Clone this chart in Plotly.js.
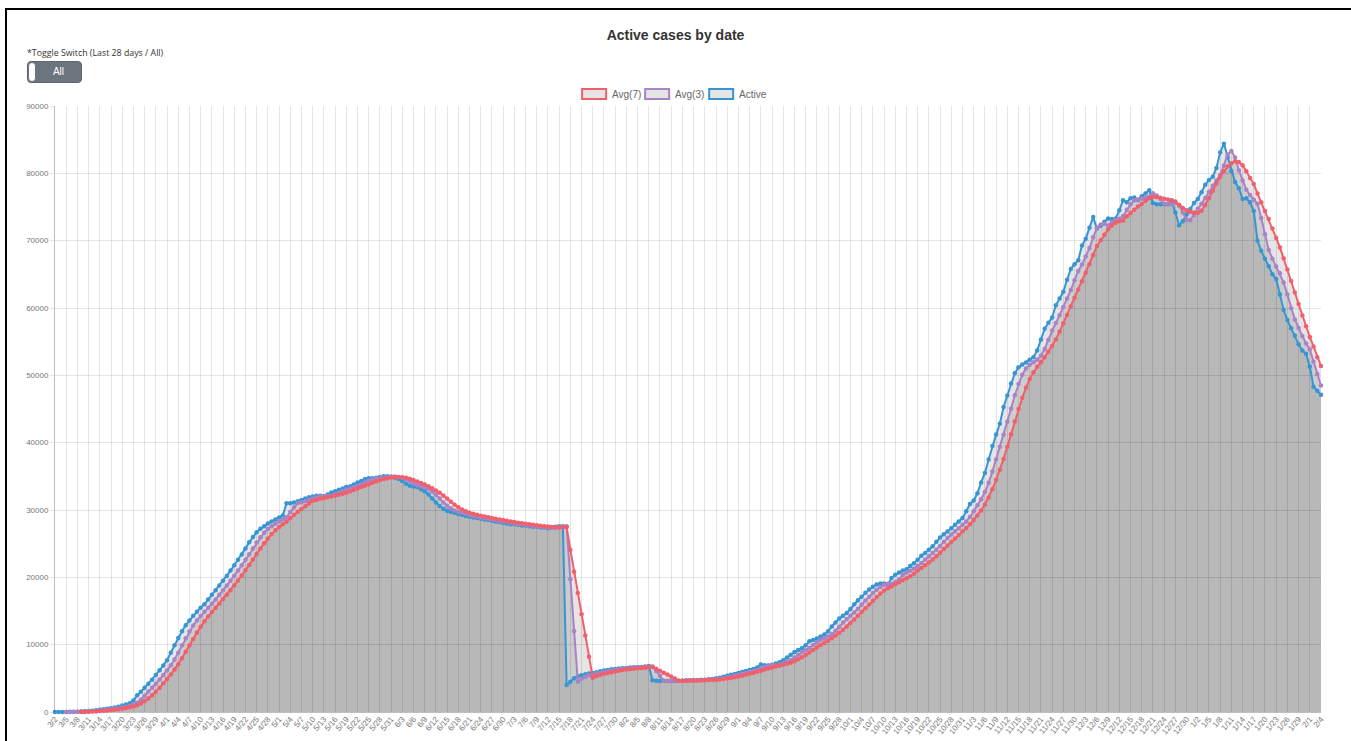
<!DOCTYPE html>
<html>
<head>
<meta charset="utf-8">
<script src="https://cdn.plot.ly/plotly-3.0.1.min.js"></script>
<style>
  html, body { margin: 0; padding: 0; background: #fff; width: 1351px; height: 741px; overflow: hidden; }
  #frame { position: absolute; left: 5px; top: 8px; width: 1400px; height: 800px; border-left: 2px solid #000; border-top: 2px solid #000; box-sizing: border-box; }
  #chart { position: absolute; left: 0; top: 0; width: 1351px; height: 741px; }
  #toggleLabel { position: absolute; left: 27px; top: 47px; font-family: "Open Sans", "Liberation Sans", Arial, sans-serif; font-size: 8.8px; color: #333; white-space: nowrap; }
  #toggle { position: absolute; left: 27px; top: 61px; width: 55px; height: 22px; background: #6c757d; border-radius: 4px; box-sizing: border-box; border: 1px solid #5f676e; }
  #knob { position: absolute; left: 0px; top: 0px; width: 8px; height: 20px; background: #fff; border-radius: 4px; box-sizing: border-box; border: 1px solid #6c757d; }
  #toggleText { position: absolute; left: 0; top: 0; width: 55px; height: 20px; line-height: 20px; text-align: center; color: #fff; font-family: "Liberation Sans", Arial, sans-serif; font-size: 10px; padding-left: 6px; box-sizing: border-box; }
</style>
</head>
<body>
<div id="frame"></div>
<div id="chart"></div>
<div id="toggleLabel">*Toggle Switch (Last 28 days / All)</div>
<div id="toggle"><div id="knob"></div><div id="toggleText">All</div></div>
<script>
// ---- categories (dates) ----
var dates = [
'3/2','3/3','3/4','3/5','3/6','3/7','3/8','3/9','3/10','3/11','3/12','3/13','3/14','3/15','3/16','3/17','3/18','3/19','3/20','3/21','3/22','3/23','3/24','3/25','3/26','3/27','3/28','3/29','3/30','3/31',
'4/1','4/2','4/3','4/4','4/5','4/6','4/7','4/8','4/9','4/10','4/11','4/12','4/13','4/14','4/15','4/16','4/17','4/18','4/19','4/20','4/21','4/22','4/23','4/24','4/25','4/26','4/27','4/28','4/29','4/30',
'5/1','5/2','5/3','5/4','5/5','5/6','5/7','5/8','5/9','5/10','5/11','5/12','5/13','5/14','5/15','5/16','5/17','5/18','5/19','5/20','5/21','5/22','5/23','5/24','5/25','5/26','5/27','5/28','5/29','5/30','5/31',
'6/1','6/2','6/3','6/4','6/5','6/6','6/7','6/8','6/9','6/10','6/11','6/12','6/13','6/14','6/15','6/16','6/17','6/18','6/19','6/20','6/21','6/22','6/23','6/24','6/25','6/26','6/27','6/28','6/29','6/30',
'7/1','7/2','7/3','7/4','7/5','7/6','7/7','7/8','7/9','7/10','7/11','7/12','7/13','7/14','7/15','7/16','7/17','7/18','7/19','7/20','7/21','7/22','7/23','7/24','7/25','7/26','7/27','7/28','7/29','7/30','7/31',
'8/1','8/2','8/3','8/4','8/5','8/6','8/7','8/8','8/9','8/10','8/11','8/12','8/13','8/14','8/15','8/16','8/17','8/18','8/19','8/20','8/21','8/22','8/23','8/24','8/25','8/26','8/27','8/28','8/29','8/30','8/31',
'9/1','9/2','9/3','9/4','9/5','9/6','9/7','9/8','9/9','9/10','9/11','9/12','9/13','9/14','9/15','9/16','9/17','9/18','9/19','9/20','9/21','9/22','9/23','9/24','9/25','9/26','9/27','9/28','9/29','9/30',
'10/1','10/2','10/3','10/4','10/5','10/6','10/7','10/8','10/9','10/10','10/11','10/12','10/13','10/14','10/15','10/16','10/17','10/18','10/19','10/20','10/21','10/22','10/23','10/24','10/25','10/26','10/27','10/28','10/29','10/30','10/31',
'11/1','11/2','11/3','11/4','11/5','11/6','11/7','11/8','11/9','11/10','11/11','11/12','11/13','11/14','11/15','11/16','11/17','11/18','11/19','11/20','11/21','11/22','11/23','11/24','11/25','11/26','11/27','11/28','11/29','11/30',
'12/1','12/2','12/3','12/4','12/5','12/6','12/7','12/8','12/9','12/10','12/11','12/12','12/13','12/14','12/15','12/16','12/17','12/18','12/19','12/20','12/21','12/22','12/23','12/24','12/25','12/26','12/27','12/28','12/29','12/30','12/31',
'1/1','1/2','1/3','1/4','1/5','1/6','1/7','1/8','1/9','1/10','1/11','1/12','1/13','1/14','1/15','1/16','1/17','1/18','1/19','1/20','1/21','1/22','1/23','1/24','1/25','1/26','1/27','1/28','1/29','1/30','1/31',
'2/1','2/2','2/3','2/4'
];

// ---- series: Active ----
var active = [
0,0,0,10,20,30,50,80,120,160,
200,250,330,400,480,560,650,780,950,1100,
1300,1700,2500,3000,3600,4200,4800,5500,6200,6900,
7700,8800,9900,11000,12000,12900,13600,14300,14900,15500,
16000,16700,17400,18100,18800,19500,20200,21000,21800,22600,
23400,24300,25200,26000,26700,27200,27600,28000,28300,28600,
28900,29200,31000,31000,31100,31300,31500,31700,31900,32000,
32100,32100,32000,32300,32600,32800,33000,33200,33400,33500,
33800,34100,34300,34600,34700,34700,34800,34900,35000,35000,
34900,34800,34600,34300,33900,33600,33500,33400,33100,32800,
32300,31700,31100,30600,30200,29900,29700,29600,29400,29300,
29100,29000,28900,28800,28700,28600,28500,28400,28300,28200,
28100,28000,27900,27900,27800,27700,27700,27600,27500,27500,
27400,27400,27300,27400,27500,27600,27600,4000,4500,5000,
5300,5450,5600,5700,5800,5900,6050,6150,6250,6350,
6400,6450,6500,6550,6600,6650,6650,6700,6750,6850,
4700,4650,4600,4650,4600,4650,4600,4650,4650,4700,
4700,4750,4750,4800,4800,4850,4900,5000,5100,5250,
5400,5550,5650,5800,5950,6100,6250,6400,6600,7050,
6950,6900,7000,7200,7400,7700,8100,8500,8900,9200,
9450,9900,10500,10700,10900,11200,11500,12000,12700,13300,
13900,14300,14700,15300,16000,16600,17100,17700,18200,18600,
18950,19100,19100,18900,19900,20400,20700,21000,21200,21700,
22100,22600,23200,23600,24100,24600,25300,25900,26400,26800,
27300,27800,28300,28800,29800,30900,31400,32500,34100,35500,
37500,39500,41200,42800,45300,47000,48800,50300,51200,51600,
51900,52300,52700,53700,55300,56900,57800,58600,60400,61400,
62400,64200,65800,66500,67100,69300,70300,71900,73500,71800,
72200,72800,73300,73200,73300,74500,76000,75700,76300,76400,
76000,76600,77000,77500,75600,75400,75400,75400,75400,76000,
74200,72300,72900,73900,74700,75600,76200,77200,78300,79000,
79500,80800,83100,84400,82400,80300,78700,77800,76200,76300,
75700,74400,70000,68500,67300,66200,65000,64300,62000,59700,
58200,57000,55900,54600,53700,53200,51300,48300,47700,47100
];

// ---- series: Avg(3) ----
var avg3 = [
null,null,null,0,0,10,20,30,50,80,
120,160,200,260,330,400,480,560,660,790,
940,1120,1370,1830,2400,3030,3600,4200,4830,5500,
6200,6930,7800,8800,9900,10970,11970,12830,13600,14270,
14900,15470,16070,16700,17400,18100,18800,19500,20230,21000,
21800,22600,23430,24300,25170,25970,26630,27170,27600,27970,
28300,28600,28900,29700,30400,31030,31130,31300,31500,31700,
31870,32000,32070,32070,32130,32300,32570,32800,33000,33200,
33370,33570,33800,34070,34330,34530,34670,34730,34800,34900,
34970,34970,34900,34770,34570,34270,33930,33670,33500,33330,
33100,32730,32270,31700,31130,30630,30230,29930,29730,29570,
29430,29270,29130,29000,28900,28800,28700,28600,28500,28400,
28300,28200,28100,28000,27930,27870,27800,27730,27670,27600,
27530,27470,27430,27370,27370,27400,27500,27570,19730,12030,
4500,4930,5250,5450,5580,5700,5800,5920,6030,6150,
6250,6330,6400,6450,6500,6550,6600,6630,6670,6700,
6770,6100,5400,4650,4630,4620,4630,4620,4630,4630,
4670,4680,4720,4730,4770,4780,4820,4850,4920,5000,
5120,5250,5400,5530,5670,5800,5950,6100,6250,6420,
6680,6870,6970,6950,7030,7200,7430,7730,8100,8500,
8870,9180,9520,9950,10370,10700,10930,11200,11570,12070,
12670,13300,13830,14300,14770,15330,15970,16570,17130,17670,
18170,18580,18880,19050,19030,19300,19730,20330,20700,20970,
21300,21670,22130,22630,23130,23630,24100,24670,25270,25870,
26370,26830,27300,27800,28300,28970,29830,30700,31600,32670,
34030,35700,37500,39400,41170,43100,45030,47030,48700,50100,
51030,51570,51930,52300,52900,53900,55300,56670,57770,58930,
60130,61400,62670,64130,65500,66470,67630,68900,70500,71900,
72400,72500,72270,72770,73100,73270,73670,74600,75400,76000,
76130,76230,76330,76530,77030,76700,76170,75470,75400,75400,
75600,75200,74170,73130,73030,73830,74730,75500,76330,77230,
78170,78930,79770,81130,82770,83300,82370,80470,78930,77570,
76770,76070,75470,73370,70970,68600,67330,66170,65170,63770,
62000,59970,58300,57030,55830,54730,53830,52000,50200,48500
];

// ---- series: Avg(7) ----
var avg7 = [
null,null,null,null,null,null,null,20,30,40,
70,90,130,170,220,280,340,410,490,590,
700,830,1010,1280,1620,2020,2490,3010,3610,4260,
4890,5560,6300,7110,8000,8930,9890,10840,11790,12660,
13460,14170,14840,15490,16130,16770,17430,18100,18810,19540,
20290,21040,21830,22640,23470,24290,25060,25770,26430,27000,
27490,27900,28260,28800,29290,29730,30160,30570,30970,31360,
31500,31660,31800,31900,32010,32140,32270,32410,32570,32760,
32970,33190,33400,33610,33840,34060,34240,34430,34590,34710,
34810,34860,34870,34860,34790,34640,34440,34230,34010,33770,
33510,33230,32910,32560,32140,31690,31230,30790,30400,30070,
29810,29600,29430,29290,29160,29030,28910,28800,28700,28600,
28500,28400,28300,28200,28110,28030,27940,27870,27800,27730,
27670,27600,27540,27490,27440,27430,27440,27460,24110,20840,
17660,14500,11350,8210,5080,5340,5540,5690,5810,5920,
6030,6130,6220,6310,6380,6440,6500,6540,6590,6630,
6680,6410,6140,5840,5560,5260,4960,4640,4630,4630,
4640,4650,4670,4690,4710,4740,4760,4790,4840,4890,
4960,5040,5150,5260,5390,5530,5670,5810,5960,6110,
6310,6470,6610,6740,6870,7010,7170,7320,7540,7830,
8140,8460,8820,9220,9590,9940,10260,10590,10960,11360,
11760,12210,12700,13200,13740,14310,14870,15410,15960,16510,
17070,17590,18040,18390,18650,18960,19280,19580,19870,20170,
20540,21000,21390,21790,22200,22640,23130,23640,24190,24730,
25240,25770,26300,26830,27330,27890,28530,29190,29930,30830,
31860,33100,34490,35960,37590,39410,41260,43160,44990,46660,
48140,49440,50440,51260,51960,52670,53490,54370,55330,56490,
57730,58970,60240,61510,62760,63970,65240,66510,67870,69200,
70060,70870,71690,72260,72670,72870,73010,73610,74110,74610,
75060,75460,75930,76290,76500,76490,76360,76210,76130,75960,
75810,75340,74870,74510,74300,74200,74140,74430,75300,76300,
77400,78500,79500,80300,81000,81500,81800,81700,81200,80300,
79300,78400,77000,75700,74400,73200,71800,70400,69000,67400,
65700,64000,62300,60600,58900,57300,55700,54300,52700,51400
];

// ---- series names & colors ----
var seriesNames = ['Avg(7)', 'Avg(3)', 'Active'];
var seriesColors = ['#f0606c', '#a883c6', '#3796d2'];
var yTicks = [0,10000,20000,30000,40000,50000,60000,70000,80000,90000];
var xTickLabels = dates.filter(function(d, i){ return i % 3 === 0; });

// plot-area geometry (pixels)
var L = 55, R = 1320.7, T = 105.5, B = 712, W = 1351, H = 741;
function px(x){ return (x - L) / (R - L); }
function py(y){ return (B - y) / (B - T); }

function mkFill(name, y){
  return {
    type: 'scatter', x: dates, y: y, name: name,
    mode: 'none', fill: 'tozeroy', fillcolor: 'rgba(0,0,0,0.1)',
    hoverinfo: 'skip', showlegend: false
  };
}
function mkLine(name, y, color){
  return {
    type: 'scatter', x: dates, y: y, name: name,
    mode: 'lines+markers',
    line: {color: color, width: 2},
    marker: {color: color, size: 4.5},
    cliponaxis: false, hoverinfo: 'skip', showlegend: false
  };
}
var traces = [
  mkFill(seriesNames[2], active),
  mkFill(seriesNames[1], avg3),
  mkFill(seriesNames[0], avg7),
  mkLine(seriesNames[2], active, seriesColors[2]),
  mkLine(seriesNames[1], avg3, seriesColors[1]),
  mkLine(seriesNames[0], avg7, seriesColors[0])
];

// custom legend (boxes + labels) like the Chart.js legend
var legendBoxes = [[582, 606], [645, 669], [709, 733]];
var shapes = [], annotations = [];
for (var k = 0; k < 3; k++) {
  shapes.push({type:'rect', xref:'paper', yref:'paper',
    x0: px(legendBoxes[k][0]), x1: px(legendBoxes[k][1]), y0: py(98.5), y1: py(88.5),
    fillcolor:'rgba(0,0,0,0.1)', line:{color: seriesColors[k], width: 2}});
  annotations.push({xref:'paper', yref:'paper', x: px(legendBoxes[k][1] + 4), y: py(93.5),
    xanchor:'left', yanchor:'middle', showarrow:false, text: seriesNames[k],
    font:{family:'Liberation Sans, Arial, sans-serif', size:10, color:'#666'}});
}

var layout = {
  width: W, height: H,
  paper_bgcolor: 'rgba(0,0,0,0)', plot_bgcolor: 'rgba(0,0,0,0)',
  margin: {l: L, r: W - R, t: T, b: H - B, pad: 0},
  title: {text: 'Active cases by date', x: 0.5, xanchor: 'center', xref: 'container',
          y: 1 - 35 / H, yanchor: 'middle', yref: 'container',
          font: {family: 'Liberation Sans, Arial, sans-serif', size: 14, color: '#333', weight: 'bold'}},
  showlegend: false,
  hovermode: false,
  xaxis: {
    type: 'category', range: [0, dates.length - 1], autorange: false,
    tickmode: 'array', tickvals: xTickLabels, ticktext: xTickLabels,
    tickangle: -50, tickfont: {family: 'Liberation Sans, Arial, sans-serif', size: 8, color: '#777'},
    showgrid: true, gridcolor: 'rgba(0,0,0,0.1)', gridwidth: 1,
    showline: false, zeroline: false, ticks: '', fixedrange: true
  },
  yaxis: {
    range: [0, 90000], autorange: false,
    tickmode: 'array', tickvals: yTicks, ticktext: yTicks.map(String),
    tickfont: {family: 'Liberation Sans, Arial, sans-serif', size: 8, color: '#777'},
    showgrid: true, gridcolor: 'rgba(0,0,0,0.1)', gridwidth: 1,
    zeroline: true, zerolinecolor: 'rgba(0,0,0,0.25)', zerolinewidth: 1,
    showline: true, linecolor: 'rgba(0,0,0,0.25)', linewidth: 1,
    ticks: 'outside', ticklen: 4, tickcolor: 'rgba(0,0,0,0.1)', fixedrange: true
  },
  shapes: shapes,
  annotations: annotations
};

Plotly.newPlot('chart', traces, layout, {displayModeBar: false, staticPlot: true});
</script>
</body>
</html>
